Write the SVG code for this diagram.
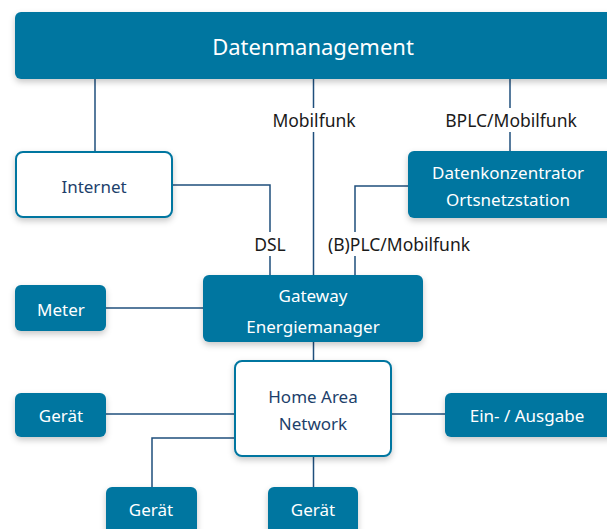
<svg xmlns="http://www.w3.org/2000/svg" width="607" height="529" viewBox="0 0 607 529">
<defs>
<filter id="sh" x="-20%" y="-20%" width="140%" height="160%">
<feDropShadow dx="0" dy="3" stdDeviation="3" flood-color="#000" flood-opacity="0.22"/>
</filter>
</defs>
<style>
.f{fill:#0076a0;filter:url(#sh)}
.w{fill:#fff;stroke:#0076a0;stroke-width:2;filter:url(#sh)}
.t{font-family:"Noto Sans","Open Sans",sans-serif;font-size:17px;fill:#fff;text-anchor:middle;dominant-baseline:central}
.tw{font-family:"Noto Sans","Open Sans",sans-serif;font-size:17px;fill:#1d3f6b;text-anchor:middle;dominant-baseline:central}
.l{font-family:"Noto Sans","Open Sans",sans-serif;font-size:17.5px;fill:#1a1a1a;text-anchor:middle;dominant-baseline:central}
.c{fill:none;stroke:#1f4f7c;stroke-width:1.5}
</style>
<rect width="607" height="529" fill="#fff"/>
<g id="connectors">
<path class="c" d="M95 79V152"/>
<path class="c" d="M313.5 79V275"/>
<path class="c" d="M510 79V151"/>
<path class="c" d="M172 185H270V275"/>
<path class="c" d="M408 186H355V275"/>
<path class="c" d="M106 308H203"/>
<path class="c" d="M313.5 342V361"/>
<path class="c" d="M106 414H235"/>
<path class="c" d="M391 414H445"/>
<path class="c" d="M235 438H152V487"/>
<path class="c" d="M313.5 456V487"/>
</g>
<g id="labels">
<rect x="268" y="108" width="92" height="24" fill="#fff"/>
<text class="l" x="314" y="120">Mobilfunk</text>
<rect x="438" y="108" width="146" height="24" fill="#fff"/>
<text class="l" x="511" y="120">BPLC/Mobilfunk</text>
<rect x="249" y="232" width="42" height="24" fill="#fff"/>
<text class="l" x="270" y="244">DSL</text>
<rect x="323" y="232" width="152" height="24" fill="#fff"/>
<text class="l" x="399" y="244">(B)PLC/Mobilfunk</text>
</g>
<g id="datenmanagement">
<rect class="f" x="15" y="12" width="600" height="67" rx="6"/>
<text class="t" x="313" y="46" style="font-size:22px">Datenmanagement</text>
</g>
<g id="internet">
<rect class="w" x="16" y="152" width="156" height="65" rx="7"/>
<text class="tw" x="94" y="186">Internet</text>
</g>
<g id="datenkonzentrator">
<rect class="f" x="408" y="151" width="207" height="67" rx="6"/>
<text class="t" x="508" y="172">Datenkonzentrator</text>
<text class="t" x="508" y="199">Ortsnetzstation</text>
</g>
<g id="gateway">
<rect class="f" x="203" y="275" width="220" height="67" rx="6"/>
<text class="t" x="313" y="295">Gateway</text>
<text class="t" x="313" y="326">Energiemanager</text>
</g>
<g id="meter">
<rect class="f" x="15" y="285" width="91" height="46" rx="6"/>
<text class="t" x="61" y="309">Meter</text>
</g>
<g id="han">
<rect class="w" x="235" y="361" width="156" height="95" rx="7"/>
<text class="tw" x="313" y="396">Home Area</text>
<text class="tw" x="313" y="423">Network</text>
</g>
<g id="geraet1">
<rect class="f" x="15" y="393" width="91" height="44" rx="6"/>
<text class="t" x="61" y="415">Gerät</text>
</g>
<g id="ausgabe">
<rect class="f" x="445" y="393" width="170" height="44" rx="6"/>
<text class="t" x="527" y="415">Ein- / Ausgabe</text>
</g>
<g id="geraet2">
<rect class="f" x="106" y="487" width="91" height="50" rx="6"/>
<text class="t" x="151" y="509">Gerät</text>
</g>
<g id="geraet3">
<rect class="f" x="268" y="487" width="90" height="50" rx="6"/>
<text class="t" x="313" y="509">Gerät</text>
</g>
</svg>
